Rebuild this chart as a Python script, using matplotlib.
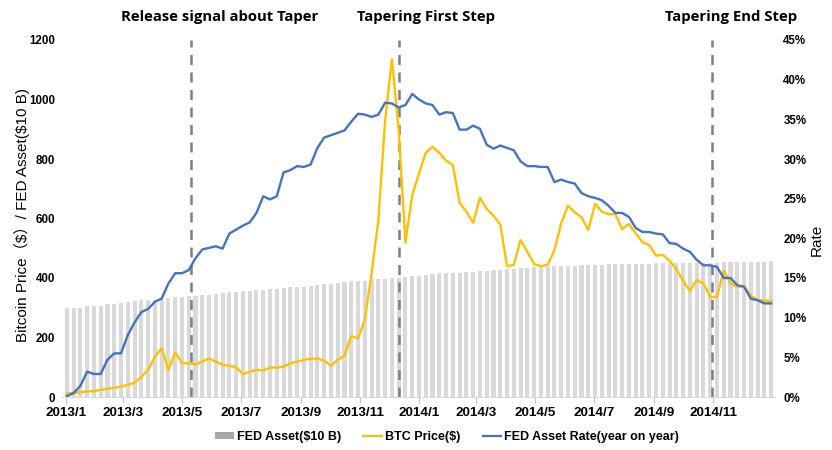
import numpy as np
import pandas as pd
import matplotlib
matplotlib.use("Agg")
import matplotlib.pyplot as plt
from matplotlib.patches import Patch
from matplotlib.lines import Line2D
from matplotlib.ticker import FuncFormatter, MultipleLocator
from matplotlib.font_manager import FontProperties

# weekly data (Wednesdays), 2013-01-02 .. 2014-12-31
dates = pd.date_range("2013-01-02", periods=105, freq="7D")

# FED asset, unit $10 B
fed_asset = [
    298, 299, 300, 306, 307, 307, 313, 314, 315, 318,
    322, 326, 327, 326, 331, 334, 336, 337, 338, 341,
    343, 344, 347, 348, 353, 354, 355, 356, 359, 361,
    362, 364, 368, 369, 370, 371, 373, 378, 379, 381,
    382, 386, 389, 390, 391, 395, 396, 398, 399, 400,
    403, 406, 408, 409, 412, 416, 417, 417, 418, 421,
    421, 423, 425, 426, 427, 430, 431, 435, 435, 436,
    437, 438, 439, 439, 440, 441, 443, 443, 444, 445,
    446, 446, 446, 446, 447, 448, 448, 449, 449, 450,
    451, 451, 452, 452, 452, 452, 452, 453, 454, 454,
    454, 454, 454, 455, 456,
]

# BTC price ($)
btc_price = [
    12, 14, 16, 19, 20, 24, 28, 31, 35, 41,
    48, 68, 91, 135, 164, 91, 150, 115, 113, 110,
    119, 130, 119, 108, 105, 100, 77, 85, 91, 89,
    99, 99, 102, 113, 119, 124, 129, 129, 122, 105,
    125, 139, 205, 197, 259, 416, 595, 931, 1135, 897,
    520, 679, 752, 821, 841, 821, 794, 780, 653, 623,
    586, 670, 632, 609, 580, 440, 444, 528, 488, 447,
    440, 444, 494, 584, 643, 621, 604, 561, 649, 623,
    615, 615, 564, 582, 550, 520, 511, 475, 478, 458,
    430, 390, 357, 393, 382, 336, 336, 425, 381, 370,
    373, 340, 326, 324, 323,
]

# FED asset growth rate, year on year (%)
asset_rate = [
    0.1, 0.5, 1.4, 3.2, 2.9, 2.9, 4.7, 5.5, 5.5, 7.8,
    9.4, 10.7, 11.1, 12.0, 12.4, 14.3, 15.6, 15.6, 16.0, 17.5,
    18.6, 18.8, 19.0, 18.7, 20.6, 21.1, 21.6, 22.0, 23.2, 25.3,
    24.9, 25.3, 28.3, 28.6, 29.1, 29.0, 29.3, 31.4, 32.7, 33.0,
    33.3, 33.6, 34.7, 35.7, 35.6, 35.3, 35.6, 37.1, 37.0, 36.5,
    36.8, 38.2, 37.5, 37.0, 36.8, 35.6, 35.9, 35.8, 33.7, 33.7,
    34.2, 33.8, 31.8, 31.3, 31.7, 31.4, 31.1, 29.7, 29.1, 29.1,
    29.0, 29.0, 27.1, 27.4, 27.1, 26.9, 25.7, 25.3, 25.1, 24.8,
    24.1, 23.2, 23.2, 22.7, 21.3, 20.8, 20.8, 20.6, 20.5, 19.4,
    19.3, 18.7, 18.3, 17.3, 16.6, 16.6, 16.4, 15.0, 15.0, 14.1,
    13.9, 12.4, 12.2, 11.8, 11.8,
]

event_dates = pd.to_datetime(["2013-05-10", "2013-12-11", "2014-10-31"])
event_labels = ["Release signal about Taper", "Tapering First Step", "Tapering End Step"]
event_label_x = [220, 426, 731]  # pixel centres of the labels

tick_dates = pd.date_range("2013-01-01", "2014-11-01", freq="2MS")
tick_labels = [f"{d.year}/{d.month}" for d in tick_dates]

GRAY_BAR = "#D9D9D9"
ORANGE = "#FFC000"
BLUE = "#4472C4"
W, H = 832, 450

fig = plt.figure(figsize=(W / 100, H / 100), dpi=100)
ax = fig.add_axes([62 / W, 1 - 397 / H, 713 / W, 357 / H])
ax2 = ax.twinx()

ax.bar(dates, fed_asset, width=4.2, color=GRAY_BAR, zorder=1)
ax.plot(dates, btc_price, color=ORANGE, lw=1.7, zorder=3)
ax2.plot(dates, asset_rate, color=BLUE, lw=1.7, zorder=3)

for d in event_dates:
    ax.axvline(d, color="#7F7F7F", lw=1.8, ls=(0, (4, 3)), zorder=2)

ax.set_xlim(pd.Timestamp("2012-12-28"), pd.Timestamp("2015-01-04"))
ax.set_ylim(0, 1200)
ax2.set_ylim(0, 45)
ax.yaxis.set_major_locator(MultipleLocator(200))
ax2.yaxis.set_major_locator(MultipleLocator(5))
ax2.yaxis.set_major_formatter(FuncFormatter(lambda v, p: f"{v:.0f}%"))

ax.set_xticks(tick_dates)
ax.set_xticklabels(tick_labels)

xfont = FontProperties(family="Liberation Sans", weight="bold", size=9.7)
yfont = FontProperties(family="Liberation Sans", weight="bold", size=8.3)
for lab in ax.get_xticklabels():
    lab.set_fontproperties(xfont)
for lab in ax.get_yticklabels() + ax2.get_yticklabels():
    lab.set_fontproperties(yfont)

for a in (ax, ax2):
    for s in a.spines.values():
        s.set_visible(False)
ax.spines["bottom"].set_visible(True)
ax.spines["bottom"].set_color("#D9D9D9")
ax.tick_params(axis="x", length=4, color="#BFBFBF", pad=3)
ax.tick_params(axis="y", length=0, pad=5)
ax2.tick_params(axis="y", length=0, pad=6)

fig.text(22 / W, 1 - 215 / H, "Bitcoin Price（\\$）/ FED Asset(\\$10 B)",
         rotation=90, ha="center", va="center", size=11,
         family=["Liberation Sans", "Noto Sans CJK SC"])
fig.text(817 / W, 1 - 240 / H, "Rate", rotation=90, ha="center", va="center",
         size=11, family="Liberation Sans")

for lx, lab in zip(event_label_x, event_labels):
    fig.text(lx / W, 1 - 17 / H, lab, ha="center", va="center", size=10.7,
             weight="bold", family="Open Sans")

handles = [
    Patch(facecolor="#A6A6A6", edgecolor="none"),
    Line2D([], [], color=ORANGE, lw=1.6),
    Line2D([], [], color=BLUE, lw=1.6),
]
fig.legend(handles, ["FED Asset($10 B)", "BTC Price($)", "FED Asset Rate(year on year)"],
           loc="center", bbox_to_anchor=(447 / W, 1 - 437 / H), ncol=3, frameon=False,
           prop=dict(family="Liberation Sans", weight="bold", size=9),
           handlelength=1.5, handleheight=0.45, handletextpad=0.2, columnspacing=1.8)

fig.savefig("out.png", dpi=100)
